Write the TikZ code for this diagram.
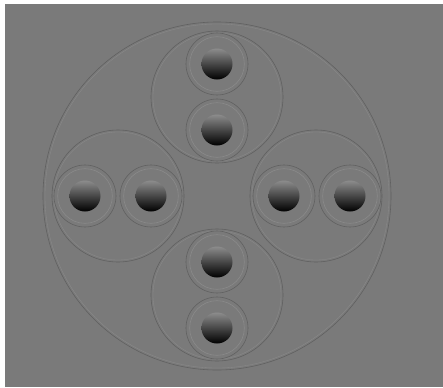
\documentclass[tikz,border=0pt]{standalone}
\usepackage{tikz}
\usetikzlibrary{positioning,calc}
\definecolor{bggray}{RGB}{122,122,122}
\definecolor{ringdk}{RGB}{96,96,96}
\definecolor{ringlt}{RGB}{138,138,138}
\definecolor{balltop}{RGB}{140,140,140}
\definecolor{ballmid}{RGB}{70,70,70}
\tikzset{
  ringnode/.style={circle,draw=ringdk,line width=0.5pt,inner sep=0pt,outer sep=0pt},
  ballnode/.style={circle,inner sep=0pt,minimum size=0.93cm,top color=balltop,
                   middle color=ballmid,bottom color=black,shading angle=0},
}
% one cell: two faint rings and the shaded ball (#1 name, #2 position)
\newcommand{\ballcell}[2]{%
  \node[ringnode,minimum size=1.86cm] (#1o) at #2 {};
  \node[ringnode,draw=ringlt,minimum size=1.64cm] (#1i) at #2 {};
  \node[ballnode] (#1) at #2 {};}

\begin{document}
\begin{tikzpicture}[x=0.03cm,y=-0.03cm]
\useasboundingbox (0,0) rectangle (443,387);
\fill[white] (0,0) rectangle (443,387);
\fill[bggray] (5,4) rectangle (443,387);
% ---- outer ring ----
\node[ringnode,minimum size=10.44cm] (outer) at (217,196) {};
\node[ringnode,draw=ringlt,line width=0.3pt,minimum size=10.32cm] (outeri) at (217,196) {};
% ---- four groups ----
\foreach \gname/\gx/\gy in {top/217/97,left/118/196,right/316/196,bottom/217/295}{
  \node[ringnode,minimum size=3.96cm] (\gname) at (\gx,\gy) {};
  \node[ringnode,draw=ringlt,line width=0.3pt,minimum size=3.84cm] (\gname i) at (\gx,\gy) {};
}
% ---- balls ----
\ballcell{ta}{(217,64)}
\ballcell{tb}{(217,130)}
\ballcell{la}{(85,196)}
\ballcell{lb}{(151,196)}
\ballcell{ra}{(284,196)}
\ballcell{rb}{(350,196)}
\ballcell{ba}{(217,262)}
\ballcell{bb}{(217,328)}
\end{tikzpicture}
\end{document}
